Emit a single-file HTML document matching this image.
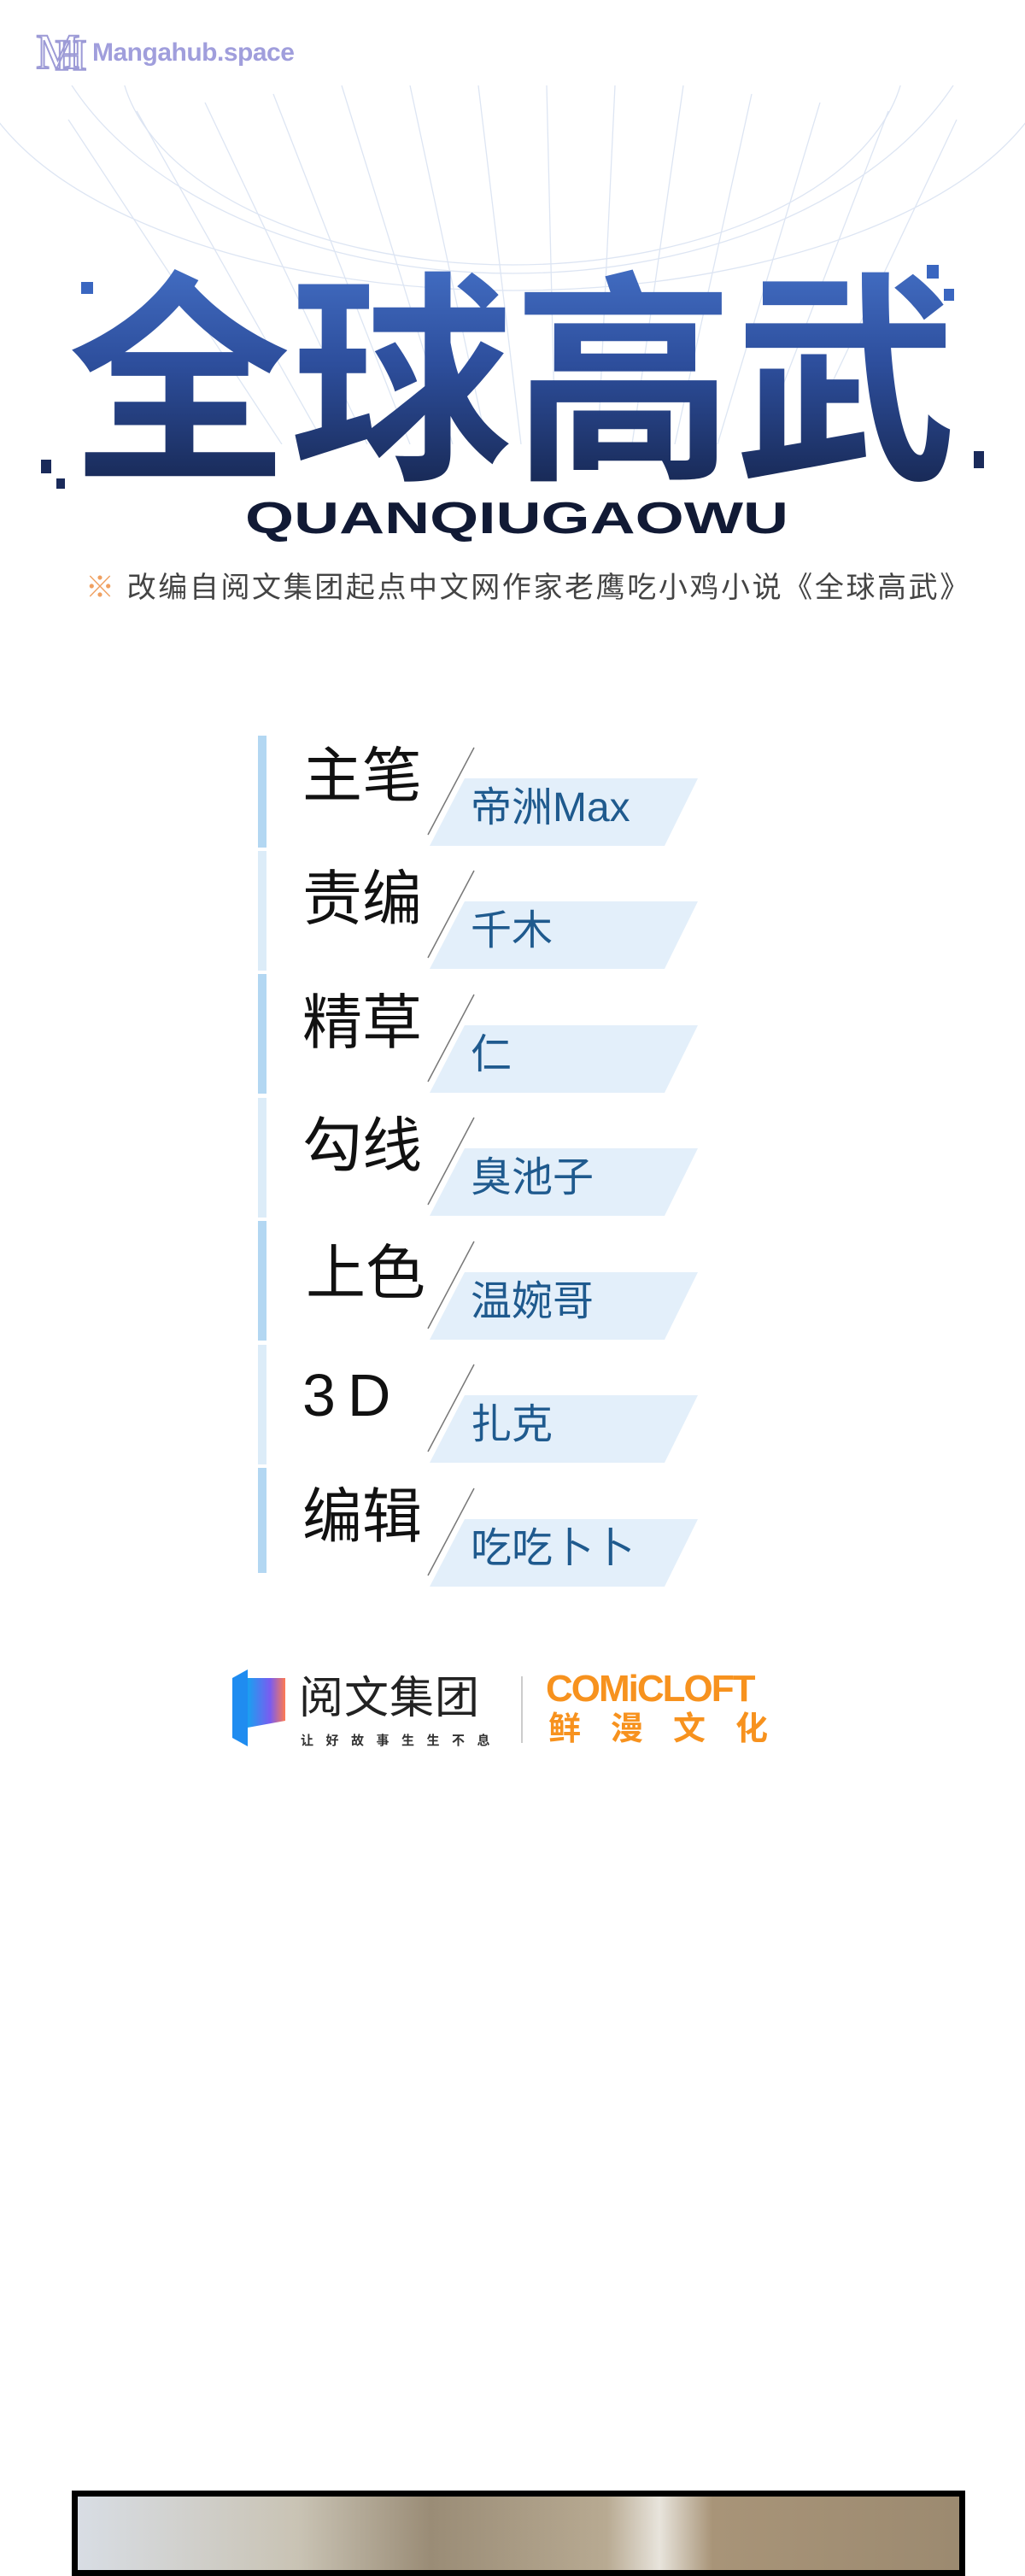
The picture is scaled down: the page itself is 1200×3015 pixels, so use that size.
<!DOCTYPE html>
<html><head><meta charset="utf-8">
<style>
*{margin:0;padding:0;box-sizing:border-box}
body{width:1200px;height:3002px;background:#fff;position:relative;overflow:hidden;font-family:"Liberation Sans","Noto Sans CJK SC",sans-serif}
.a{position:absolute}
.lab{position:absolute;left:354px;font-size:70px;color:#111;font-family:"Liberation Sans","Noto Sans CJK SC",sans-serif;line-height:1;white-space:nowrap}
.nm{position:absolute;left:551px;font-size:48px;color:#1f5a8e;font-family:"Liberation Sans","Noto Sans CJK SC",sans-serif;line-height:1;white-space:nowrap}
</style></head><body>

<!-- watermark -->
<svg class="a" style="left:40px;top:20px" width="70" height="68" viewBox="0 0 70 68">
<text x="2" y="60" font-family="Liberation Serif,serif" font-size="58" fill="none" stroke="#9c9ad6" stroke-width="2">M</text>
<text x="24" y="62" font-family="Liberation Serif,serif" font-size="52" fill="none" stroke="#9c9ad6" stroke-width="2">H</text>
</svg>
<div class="a" style="left:108px;top:45px;font-size:30px;color:#a09edc;font-weight:bold;letter-spacing:-0.5px">Mangahub.space</div>

<!-- globe grid -->
<svg class="a" style="left:0;top:100px" width="1200" height="420" viewBox="0 0 1200 420">
<g fill="none" stroke="#d2ddef" stroke-width="1.3" opacity="0.75">
<ellipse cx="600" cy="-60" rx="640" ry="300"/>
<ellipse cx="600" cy="-140" rx="560" ry="360"/>
<ellipse cx="600" cy="-40" rx="460" ry="250"/>
<path d="M80 40 L330 420 M160 30 L380 420 M240 20 L430 420 M320 10 L480 420 M400 0 L530 420 M480 0 L570 420 M560 0 L610 420 M640 0 L650 420 M720 0 L700 420 M800 0 L740 420 M880 10 L790 420 M960 20 L840 420 M1040 30 L890 420 M1120 40 L940 420"/>
</g>
</svg>

<!-- title -->
<svg class="a" style="left:0;top:290px" width="1200" height="350" viewBox="0 0 1200 350">
<defs><linearGradient id="g" x1="0" y1="0" x2="0" y2="1">
<stop offset="0" stop-color="#4f80da"/><stop offset="0.5" stop-color="#2d4e9c"/><stop offset="1" stop-color="#111d3e"/></linearGradient></defs>
<text x="600" y="250" text-anchor="middle" font-family="Noto Sans CJK SC,sans-serif" font-weight="700" font-size="262" fill="url(#g)" textLength="1040" lengthAdjust="spacingAndGlyphs">全球高武</text>
<g fill="#1a2a5a"><rect x="48" y="248" width="12" height="16"/><rect x="66" y="270" width="10" height="12"/><rect x="1140" y="238" width="12" height="20"/></g>
<g fill="#3a66c0"><rect x="95" y="40" width="14" height="14"/><rect x="1085" y="20" width="14" height="16"/><rect x="1105" y="48" width="12" height="14"/></g>
<text x="605" y="334" text-anchor="middle" font-family="Liberation Sans,sans-serif" font-weight="bold" font-size="52" fill="#111a35" textLength="636" lengthAdjust="spacingAndGlyphs">QUANQIUGAOWU</text>
</svg>

<div class="a" style="left:100px;top:660px;width:1010px;font-size:34px;color:#444;white-space:nowrap;letter-spacing:2.6px;font-family:'Liberation Sans','Noto Sans CJK SC',sans-serif"><span style="color:#f0a060">※</span> 改编自阅文集团起点中文网作家老鹰吃小鸡小说《全球高武》</div>

<!-- credits -->
<div class="a" style="left:302px;top:861px;width:10px;height:131px;background:#b3d7f2"></div>
<div class="a" style="left:302px;top:996px;width:10px;height:140px;background:#dcecf8"></div>
<div class="a" style="left:302px;top:1140px;width:10px;height:140px;background:#b3d7f2"></div>
<div class="a" style="left:302px;top:1285px;width:10px;height:140px;background:#dcecf8"></div>
<div class="a" style="left:302px;top:1429px;width:10px;height:140px;background:#b3d7f2"></div>
<div class="a" style="left:302px;top:1574px;width:10px;height:140px;background:#dcecf8"></div>
<div class="a" style="left:302px;top:1718px;width:10px;height:123px;background:#b3d7f2"></div>

<svg class="a" style="left:0;top:0" width="1200" height="2000">
<g fill="#e3effa" stroke="none">
<polygon points="544,911 817,911 778,990 503,990"/>
<polygon points="544,1055 817,1055 778,1134 503,1134"/>
<polygon points="544,1200 817,1200 778,1279 503,1279"/>
<polygon points="544,1344 817,1344 778,1423 503,1423"/>
<polygon points="544,1489 817,1489 778,1568 503,1568"/>
<polygon points="544,1633 817,1633 778,1712 503,1712"/>
<polygon points="544,1778 817,1778 778,1857 503,1857"/>
</g>
<g stroke="#777" stroke-width="1.5">
<line x1="555" y1="875" x2="501" y2="977"/>
<line x1="555" y1="1019" x2="501" y2="1121"/>
<line x1="555" y1="1164" x2="501" y2="1266"/>
<line x1="555" y1="1308" x2="501" y2="1410"/>
<line x1="555" y1="1453" x2="501" y2="1555"/>
<line x1="555" y1="1597" x2="501" y2="1699"/>
<line x1="555" y1="1742" x2="501" y2="1844"/>
</g>
</svg>

<div class="lab" style="top:873px">主笔</div><div class="nm" style="top:922px">帝洲Max</div>
<div class="lab" style="top:1017px">责编</div><div class="nm" style="top:1066px">千木</div>
<div class="lab" style="top:1162px">精草</div><div class="nm" style="top:1211px">仁</div>
<div class="lab" style="top:1306px">勾线</div><div class="nm" style="top:1355px">臭池子</div>
<div class="lab" style="top:1455px;left:358px">上色</div><div class="nm" style="top:1500px">温婉哥</div>
<div class="lab" style="top:1598px;letter-spacing:14px">3D</div><div class="nm" style="top:1644px">扎克</div>
<div class="lab" style="top:1740px">编辑</div><div class="nm" style="top:1789px">吃吃卜卜</div>

<!-- logos -->
<svg class="a" style="left:268px;top:1952px" width="72" height="95" viewBox="0 0 72 95">
<defs><linearGradient id="lg" x1="0" y1="0" x2="1" y2="0"><stop offset="0" stop-color="#1aa0f0"/><stop offset="0.6" stop-color="#7a5cf0"/><stop offset="1" stop-color="#ff7a50"/></linearGradient></defs>
<path d="M4 12 L22 2 L22 92 L4 82 Z" fill="#1f8cf0"/>
<path d="M22 12 L66 12 L66 62 L22 70 Z" fill="url(#lg)"/>
</svg>
<div class="a" style="left:350px;top:1962px;font-size:52px;color:#222;font-family:'Liberation Sans','Noto Sans CJK SC',sans-serif;line-height:1;letter-spacing:1px">阅文集团</div>
<div class="a" style="left:352px;top:2026px;font-size:15px;color:#333;letter-spacing:14.5px;font-family:'Liberation Sans','Noto Sans CJK SC',sans-serif;font-weight:bold">让好故事生生不息</div>
<div class="a" style="left:610px;top:1962px;width:2px;height:78px;background:#ccc"></div>
<div class="a" style="left:639px;top:1955px;font-size:44px;font-weight:bold;color:#f7921e;letter-spacing:-2px;line-height:1">COMiCLOFT</div>
<div class="a" style="left:642px;top:2005px;font-size:38px;font-weight:bold;color:#f7921e;letter-spacing:35px;line-height:1;font-family:'Liberation Sans','Noto Sans CJK SC',sans-serif">鲜漫文化</div>

<!-- bottom panel -->
<div class="a" style="left:84px;top:2915px;width:1046px;height:100px;border:7px solid #000;background:linear-gradient(90deg,#d8dde4 0%,#c9c3b4 25%,#9a8c76 40%,#b8aa92 60%,#e8e4dc 66%,#a89478 72%,#9c8a70 100%)"></div>

</body></html>
